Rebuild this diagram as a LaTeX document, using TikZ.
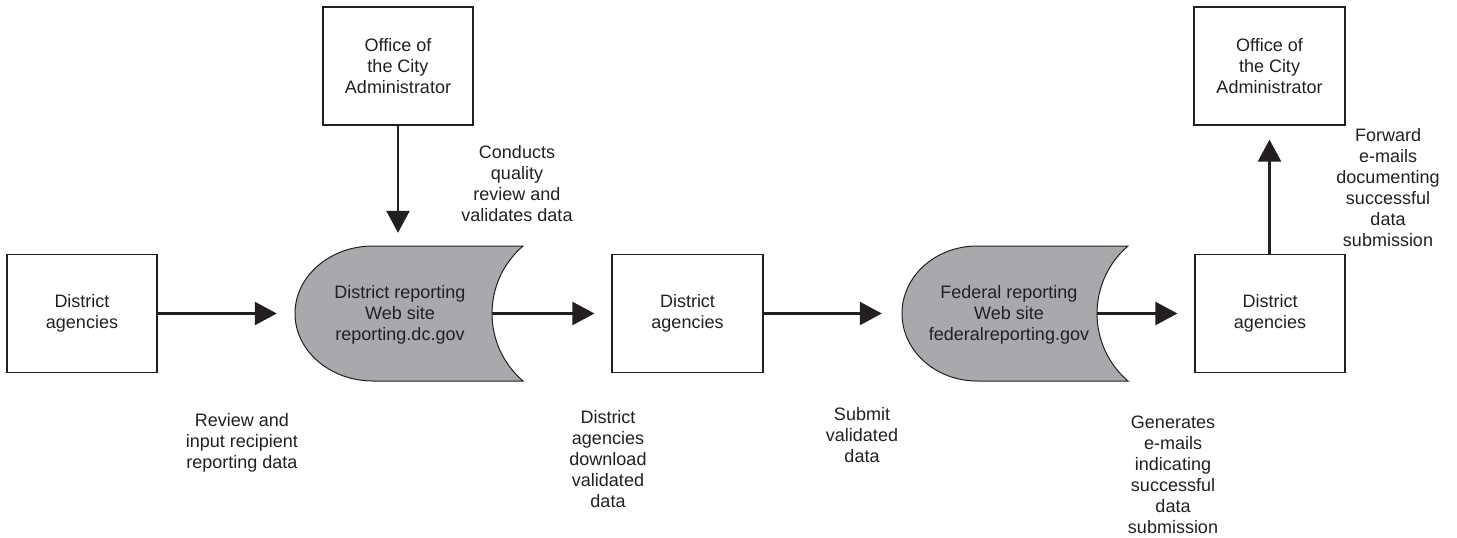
\documentclass[tikz,border=0pt]{standalone}
\usepackage{fontspec}
\setmainfont{Liberation Sans}
\usetikzlibrary{arrows.meta}
\definecolor{ink}{HTML}{231F20}
\definecolor{storefill}{HTML}{A7A9AC}
\tikzset{
  txt/.style={text=ink, font=\fontsize{18}{21}\selectfont, align=center, inner sep=0pt},
  box/.style={txt, draw=ink, line width=1.2pt, minimum width=150pt, minimum height=118pt},
  storearea/.style={txt, minimum width=228pt, minimum height=135pt},
  storeshape/.style={draw=ink, line width=1pt, fill=storefill},
  flow/.style={draw=ink, line width=2.4pt, -{Triangle[length=22pt,width=23pt]}},
}
\begin{document}
\begin{tikzpicture}[x=1pt,y=-1pt]
\path[use as bounding box] (0,0) rectangle (1457,538);

% data-store shapes (rounded left side, concave right side)
\draw[storeshape] (523,246) -- (373,246)
  .. controls (330,246) and (295,276.2) .. (295,313.5)
  .. controls (295,350.8) and (330,381) .. (373,381) -- (523,381)
  .. controls (481.7,345.5) and (481.7,281.5) .. (523,246) -- cycle;
\draw[storeshape] (1128,246) -- (977,246)
  .. controls (935.6,246) and (902,276.2) .. (902,313.5)
  .. controls (902,350.8) and (935.6,381) .. (977,381) -- (1128,381)
  .. controls (1086.7,345.5) and (1086.7,281.5) .. (1128,246) -- cycle;

\node[storearea] (s1) at (409,313.5) {};
\node[txt] (s1t) at (400,315) {District reporting\\Web site\\reporting.dc.gov};
\coordinate (s1c) at (492,313.5);
\node[storearea] (s2) at (1015,313.5) {};
\node[txt] (s2t) at (1009,315) {Federal reporting\\Web site\\federalreporting.gov};
\coordinate (s2c) at (1097,313.5);

% boxes
\node[box] (b1) at (82,313.5) {District\\agencies};
\node[box, minimum width=151pt] (b2) at (687.5,313.5) {District\\agencies};
\node[box] (b3) at (1270,313.5) {District\\agencies};
\node[box] (t1) at (398,66) {Office of\\the City\\Administrator};
\node[box, minimum width=151pt] (t2) at (1269.5,66) {Office of\\the City\\Administrator};

% connectors
\draw[flow, shorten >=18pt] (b1.east) -- (s1.west);
\draw[flow, shorten >=17pt] (s1c) -- (b2.west);
\draw[flow, shorten >=19pt] (b2.east) -- (s2.west);
\draw[flow, shorten >=17pt] (s2c) -- (b3.west);
\draw[flow, shorten >=13pt] (t1.south) -- (t1.south |- s1.north);
\draw[flow, shorten >=14pt] (b3.north -| t2.south) -- (t2.south);

% labels
\node[txt] (l1) at (242,443) {Review and\\input recipient\\reporting data};
\node[txt] (l2) at (608,459) {District\\agencies\\download\\validated\\data};
\node[txt] (l3) at (862,435) {Submit\\validated\\data};
\node[txt] (l4) at (1173,475) {Generates\\e-mails\\indicating\\successful\\data\\submission};
\node[txt] (l5) at (1388,188) {Forward\\e-mails\\documenting\\successful\\data\\submission};
\node[txt] (l6) at (517,184) {Conducts\\quality\\review and\\validates data};
\end{tikzpicture}
\end{document}
